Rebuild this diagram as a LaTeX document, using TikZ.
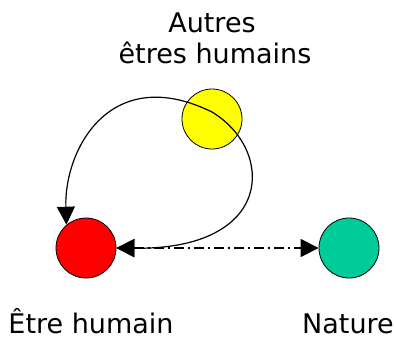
\documentclass[tikz,border=0pt]{standalone}
\usepackage{fontspec}
\setmainfont{DejaVu Sans}
\usetikzlibrary{arrows.meta}
\definecolor{cred}{RGB}{255,0,0}
\definecolor{cyellow}{RGB}{255,255,0}
\definecolor{cgreen}{RGB}{0,204,153}
\tikzset{
  ball/.style={circle, draw=black, line width=0.8pt, minimum size=60pt, inner sep=0pt},
  lbl/.style={anchor=base, inner sep=0pt, font=\fontsize{27}{32}\selectfont},
  link/.style={line width=1.2pt, {Triangle[length=18pt,width=18pt]}-{Triangle[length=18pt,width=18pt]}},
}
\begin{document}
\begin{tikzpicture}[x=1pt,y=-1pt]
\useasboundingbox (0,0) rectangle (396,338);
\node[ball, fill=cred] (red) at (86,248) {};
\node[ball, fill=cyellow] (yellow) at (212,119) {};
\node[ball, fill=cgreen] (green) at (349,248) {};
\coordinate (via) at (212,112);
\draw[link] (red.130) .. controls (64,150) and (110,62) .. (via)
  .. controls (275,150) and (275,250) .. (red.east);
\draw[link, dash pattern=on 10pt off 4pt on 2pt off 4pt] (red) -- (green);
\node[lbl] (t1) at (212,32) {Autres};
\node[lbl] (t2) at (215,63) {êtres humains};
\node[lbl] (t3) at (91,333) {Être humain};
\node[lbl] (t4) at (348,333) {Nature};
\end{tikzpicture}
\end{document}
